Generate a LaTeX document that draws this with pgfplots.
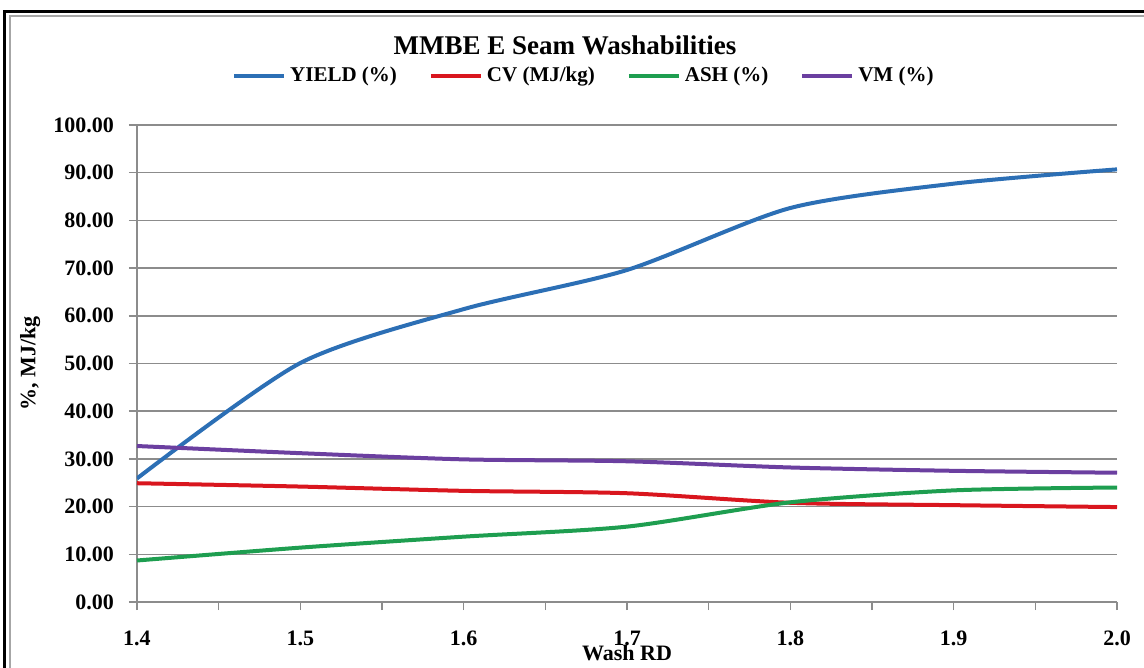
\documentclass[border=0pt]{standalone}
\usepackage{fontspec}
\setmainfont{Liberation Serif}
\usepackage{pgfplots}
\pgfplotsset{compat=1.18}

\definecolor{cyield}{HTML}{2C6FB5}
\definecolor{ccv}{HTML}{D9161E}
\definecolor{cash}{HTML}{1E9E50}
\definecolor{cvm}{HTML}{6B3FA0}
\definecolor{gridgray}{HTML}{8C8C8C}

\begin{document}
\begin{tikzpicture}
% page size and chart frame (only left and top edges are visible)
\useasboundingbox (-68.5pt,-33pt) rectangle (503.5pt,301pt);
\draw[black, line width=1.5pt] (-66pt,-60pt) -- (-66pt,295pt) -- (530pt,295pt);
\draw[gray!70, line width=0.8pt] (-63.5pt,-60pt) -- (-63.5pt,293pt) -- (530pt,293pt);

\node[font=\fontsize{13.5}{16}\selectfont\bfseries] at (214pt,278.5pt) {MMBE E Seam Washabilities};

\begin{axis}[
    scale only axis,
    width=490pt, height=238.5pt,
    xmin=1.4, xmax=2.0,
    ymin=0, ymax=100,
    xtick={1.4,1.5,...,2.0},
    minor x tick num=1,
    ytick={0,10,...,100},
    axis x line*=bottom,
    axis y line*=left,
    axis line style={draw=gridgray, line width=0.75pt, -},
    tick style={draw=gridgray, line width=0.75pt},
    tick align=outside,
    major tick length=4pt, minor tick length=4pt,
    ymajorgrids,
    grid style={draw=gridgray, line width=0.75pt},
    tick label style={font=\fontsize{11}{13}\selectfont\bfseries},
    /pgf/number format/assume math mode=true,
    yticklabel style={/pgf/number format/fixed, /pgf/number format/fixed zerofill,
        /pgf/number format/precision=2, xshift=-4pt},
    xticklabel style={/pgf/number format/fixed, /pgf/number format/fixed zerofill,
        /pgf/number format/precision=1, yshift=-7pt},
    xlabel={Wash RD},
    xlabel style={font=\fontsize{11}{13}\selectfont\bfseries,
        at={(axis description cs:0.5,0)}, anchor=center, yshift=-25.5pt},
    ylabel={\%, MJ/kg},
    ylabel style={font=\fontsize{11}{13}\selectfont\bfseries,
        at={(axis description cs:-0.109,0.5)}, anchor=center},
    legend columns=4,
    legend style={draw=none, fill=none, at={(0.457,1.103)}, anchor=center,
        font=\fontsize{10.5}{12}\selectfont\bfseries,
        /tikz/every even column/.append style={column sep=14pt}},
    legend image code/.code={\draw[#1] (0pt,0pt) -- (25pt,0pt);},
    every axis plot/.append style={line width=2pt, smooth, tension=0.45},
]
\addplot[cyield] table {
x    y
1.4  25.9
1.5  50.1
1.6  61.4
1.7  69.6
1.8  82.6
1.9  87.7
2.0  90.7
};
\addlegendentry{YIELD (\%)}
\addplot[ccv] table {
x    y
1.4  24.9
1.5  24.2
1.6  23.3
1.7  22.8
1.8  20.8
1.9  20.3
2.0  19.9
};
\addlegendentry{CV (MJ/kg)}
\addplot[cash] table {
x    y
1.4  8.7
1.5  11.4
1.6  13.7
1.7  15.8
1.8  20.9
1.9  23.4
2.0  24.0
};
\addlegendentry{ASH (\%)}
\addplot[cvm] table {
x    y
1.4  32.7
1.5  31.2
1.6  29.9
1.7  29.5
1.8  28.2
1.9  27.5
2.0  27.1
};
\addlegendentry{VM (\%)}
\end{axis}
\end{tikzpicture}
\end{document}
